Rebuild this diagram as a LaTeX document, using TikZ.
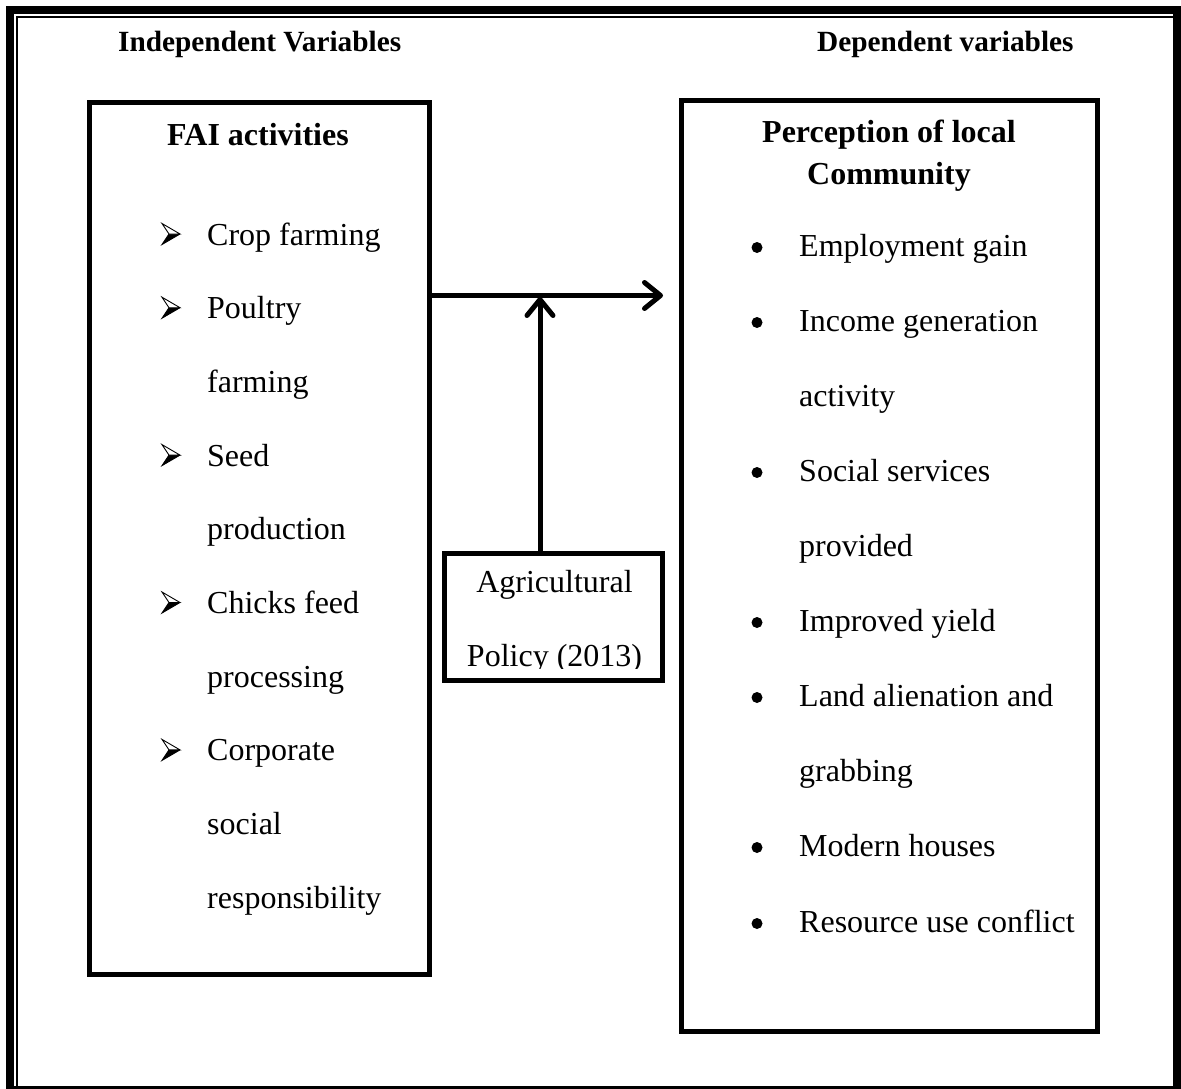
\documentclass[tikz,border=0pt]{standalone}
\usepackage{fontspec}
\setmainfont{Liberation Serif}
\usetikzlibrary{arrows.meta}
\begin{document}
\begin{tikzpicture}[x=1pt,y=-1pt,
  box/.style={draw, line width=5pt, inner sep=0pt},
  body/.style={anchor=base west, inner sep=0pt, font=\fontsize{32}{38}\selectfont},
  bodyc/.style={anchor=base, inner sep=0pt, font=\fontsize{32}{38}\selectfont},
  boxhead/.style={anchor=base, inner sep=0pt, font=\fontsize{32}{38}\selectfont\bfseries},
  tophead/.style={anchor=base west, inner sep=0pt, font=\fontsize{29.3}{35}\selectfont\bfseries},
  conn/.style={line width=5pt, -{Straight Barb[length=16pt,width=26pt,line cap=round,line join=round]}},
  arrbul/.pic={
    \fill[black] (7,0) -- (18,0) -- (0,10.5) -- cycle;
    \draw[line width=0.9pt, line join=miter, fill=white] (0,-10.5) -- (18,0) -- (7,0) -- cycle;
    \draw[line width=0.9pt] (7,0) -- (0,10.5) -- (18,0);
  }]
\useasboundingbox (0,0) rectangle (1181,1089);
\fill[white] (0,0) rectangle (1181,1089);
% outer frame
\fill[black] (6,6) rectangle (1181,14);
\fill[black] (6,6) rectangle (14,1089);
\fill[black] (1173,6) rectangle (1181,1089);
\fill[black] (6,1086) rectangle (1181,1089);
\fill[black] (15.5,16) rectangle (17.5,1089);
\fill[black] (15.5,16) rectangle (1173,18);
% headings
\node[tophead] (indep) at (118,52) {Independent Variables};
\node[tophead] (dep) at (817,52) {Dependent variables};
% boxes
\node[box, minimum width=340.5pt, minimum height=871pt] (fai) at (259.25,538.5) {};
\node[box, minimum width=416pt, minimum height=930.5pt] (perc) at (889,565.75) {};
\node[box, minimum width=218pt, minimum height=127pt] (policy) at (553.5,617) {};
% left box text
\node[boxhead] (faih) at (258,146) {FAI activities};
\foreach \t/\y [count=\i] in {Crop farming/245, Poultry/318.7, farming/392.4, Seed/466.1, production/539.8, Chicks feed/613.5, processing/687.2, Corporate/760.9, social/834.6, responsibility/908.3}
  \node[body] (l\i) at (207,\y) {\t};
\foreach \y in {245, 318.7, 466.1, 613.5, 760.9}
  \pic at (162,\y-11) {arrbul};
% right box text
\node[boxhead] (perch1) at (889,143) {Perception of local};
\node[boxhead] (perch2) at (889,185) {Community};
\foreach \t/\y [count=\i] in {Employment gain/256, Income generation/331, activity/406, Social services/481, provided/556, Improved yield/631, Land alienation and/706, grabbing/781, Modern houses/856, Resource use conflict/932}
  \node[body] (r\i) at (799,\y) {\t};
\foreach \y in {256, 331, 481, 631, 706, 856, 932}
  \fill (757,\y-8.5) circle (5.5pt);
% policy box text
\node[bodyc] (pol1) at (554.5,592) {Agricultural};
\begin{scope}
  \clip (447,556) rectangle (660,668);
  \node[bodyc] (pol2) at (554.5,666) {Policy (2013)};
\end{scope}
% connectors
\coordinate (hend) at (663,295.5);
\coordinate (vend) at (540,297);
\draw[conn] (fai.east |- hend) -- (hend);
\draw[conn] (policy.north -| vend) -- (vend);
\end{tikzpicture}
\end{document}
